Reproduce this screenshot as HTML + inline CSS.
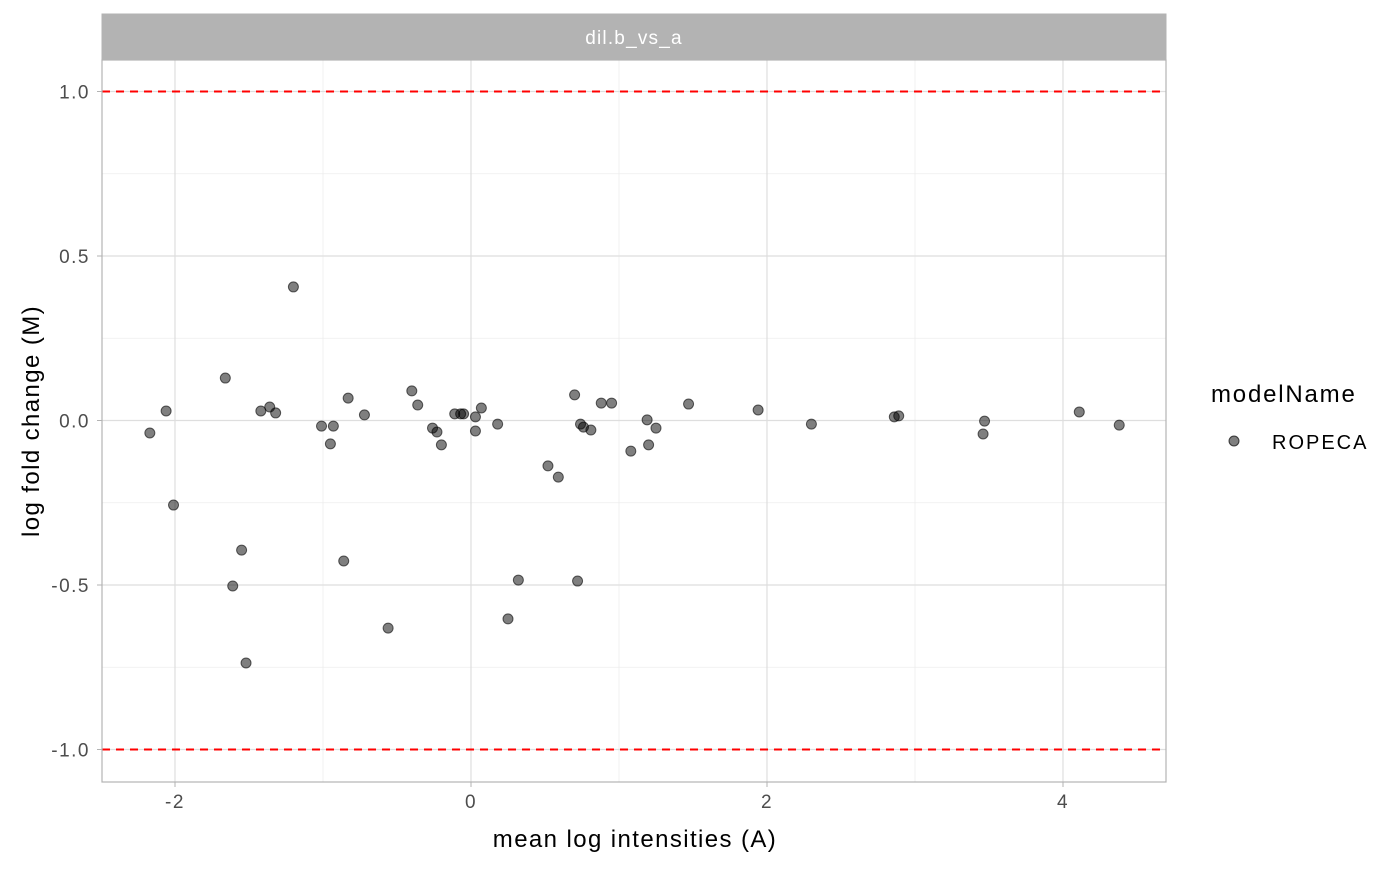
<!DOCTYPE html>
<html><head><meta charset="utf-8"><style>
body{margin:0;background:#fff;font-family:"Liberation Sans",Arial,sans-serif}
</style></head><body>
<svg id="chart" width="1400" height="866" xmlns="http://www.w3.org/2000/svg" font-family="Liberation Sans, Arial, sans-serif">
<rect width="1400" height="866" fill="#fff"/>
<g id="grid"></g>
<rect x="102" y="14" width="1064" height="45" fill="#b3b3b3" stroke="#b3b3b3"/>
<text x="634" y="44" fill="#fff" font-size="19" letter-spacing="1.2" text-anchor="middle">dil.b_vs_a</text>
<g id="pts"></g>
<rect x="102" y="60" width="1064" height="722" fill="none" stroke="#b3b3b3" stroke-width="1.2"/>
<g id="ticks"></g>
<text x="635" y="847" font-size="24" letter-spacing="1.4" text-anchor="middle">mean log intensities (A)</text>
<text transform="translate(39,421) rotate(-90)" font-size="24" letter-spacing="1.4" text-anchor="middle">log fold change (M)</text>
<text x="1211" y="402" font-size="24" letter-spacing="1.8">modelName</text>
<circle cx="1234" cy="441" r="5" fill="rgba(0,0,0,0.5)" stroke="rgba(0,0,0,0.7)"/>
<text x="1272" y="449" font-size="20" letter-spacing="2">ROPECA</text>
</svg>
<script>
const xs=[-2.17,-2.06,-2.01,-1.66,-1.61,-1.55,-1.52,-1.42,-1.36,-1.32,-1.20,-1.01,-0.95,-0.93,-0.86,-0.83,-0.72,-0.56,-0.40,-0.36,-0.26,-0.23,-0.20,-0.11,-0.07,-0.05,0.03,0.03,0.07,0.18,0.52,0.59,0.32,0.25,0.70,0.72,0.74,0.76,0.81,0.88,0.95,1.08,1.19,1.20,1.25,1.47,1.94,2.30,2.86,2.89,3.46,3.47,4.11,4.38];
const ys=[-0.038,0.029,-0.257,0.129,-0.503,-0.394,-0.737,0.029,0.041,0.023,0.406,-0.017,-0.071,-0.017,-0.427,0.068,0.017,-0.631,0.090,0.047,-0.023,-0.035,-0.074,0.020,0.020,0.020,0.011,-0.032,0.038,-0.011,-0.138,-0.172,-0.485,-0.603,0.078,-0.488,-0.011,-0.020,-0.029,0.053,0.053,-0.093,0.002,-0.074,-0.023,0.050,0.032,-0.011,0.011,0.014,-0.041,-0.002,0.026,-0.014];
const xTicks=[-2,0,2,4];
const xMinor=[-1,1,3];
const yTicks=[-1,-0.5,0,0.5,1];
const yTickLabels=["-1.0","-0.5","0.0","0.5","1.0"];
const yMinor=[-0.75,-0.25,0.25,0.75];
const thresholds=[-1,1];
const X=v=>471+148*v, Y=v=>420.5-329*v;
const NS="http://www.w3.org/2000/svg";
function mk(p,t,a){const e=document.createElementNS(NS,t);for(const k in a)e.setAttribute(k,a[k]);p.appendChild(e);return e;}
const g=document.getElementById('grid'),tk=document.getElementById('ticks'),pg=document.getElementById('pts');
yMinor.forEach(v=>{const e=mk(g,'line',{x1:102,x2:1166,y1:Y(v),y2:Y(v),stroke:'#ededed','stroke-width':0.8});

});
xMinor.forEach(v=>{const e=mk(g,'line',{x1:X(v),x2:X(v),y1:60,y2:782,stroke:'#ededed','stroke-width':0.8});

});
yTicks.forEach((v,i)=>{const e=mk(g,'line',{x1:102,x2:1166,y1:Y(v),y2:Y(v),stroke:'#dedede','stroke-width':1.2});


const t=mk(tk,'line',{x1:97,x2:102,y1:Y(v),y2:Y(v),stroke:'#b3b3b3'});


const l=mk(tk,'text',{x:90,y:Y(v)+7,'font-size':19,'letter-spacing':1.5,fill:'#4d4d4d','text-anchor':'end'});l.textContent=yTickLabels[i];

});
xTicks.forEach(v=>{const e=mk(g,'line',{x1:X(v),x2:X(v),y1:60,y2:782,stroke:'#dedede','stroke-width':1.2});


const t=mk(tk,'line',{x1:X(v),x2:X(v),y1:782,y2:787,stroke:'#b3b3b3'});


const l=mk(tk,'text',{x:X(v),y:808,'font-size':19,'letter-spacing':1.5,fill:'#4d4d4d','text-anchor':'middle'});l.textContent=String(v);

});
thresholds.forEach(v=>{const e=mk(g,'line',{x1:102,x2:1166,y1:Y(v),y2:Y(v),stroke:'#ff0000','stroke-width':2,'stroke-dasharray':'8,6'});

});
xs.forEach((x,i)=>{const c=mk(pg,'circle',{cx:X(x),cy:Y(ys[i]),r:5,fill:'rgba(0,0,0,0.5)',stroke:'rgba(0,0,0,0.6)','stroke-width':1});

});
</script>
</body></html>
